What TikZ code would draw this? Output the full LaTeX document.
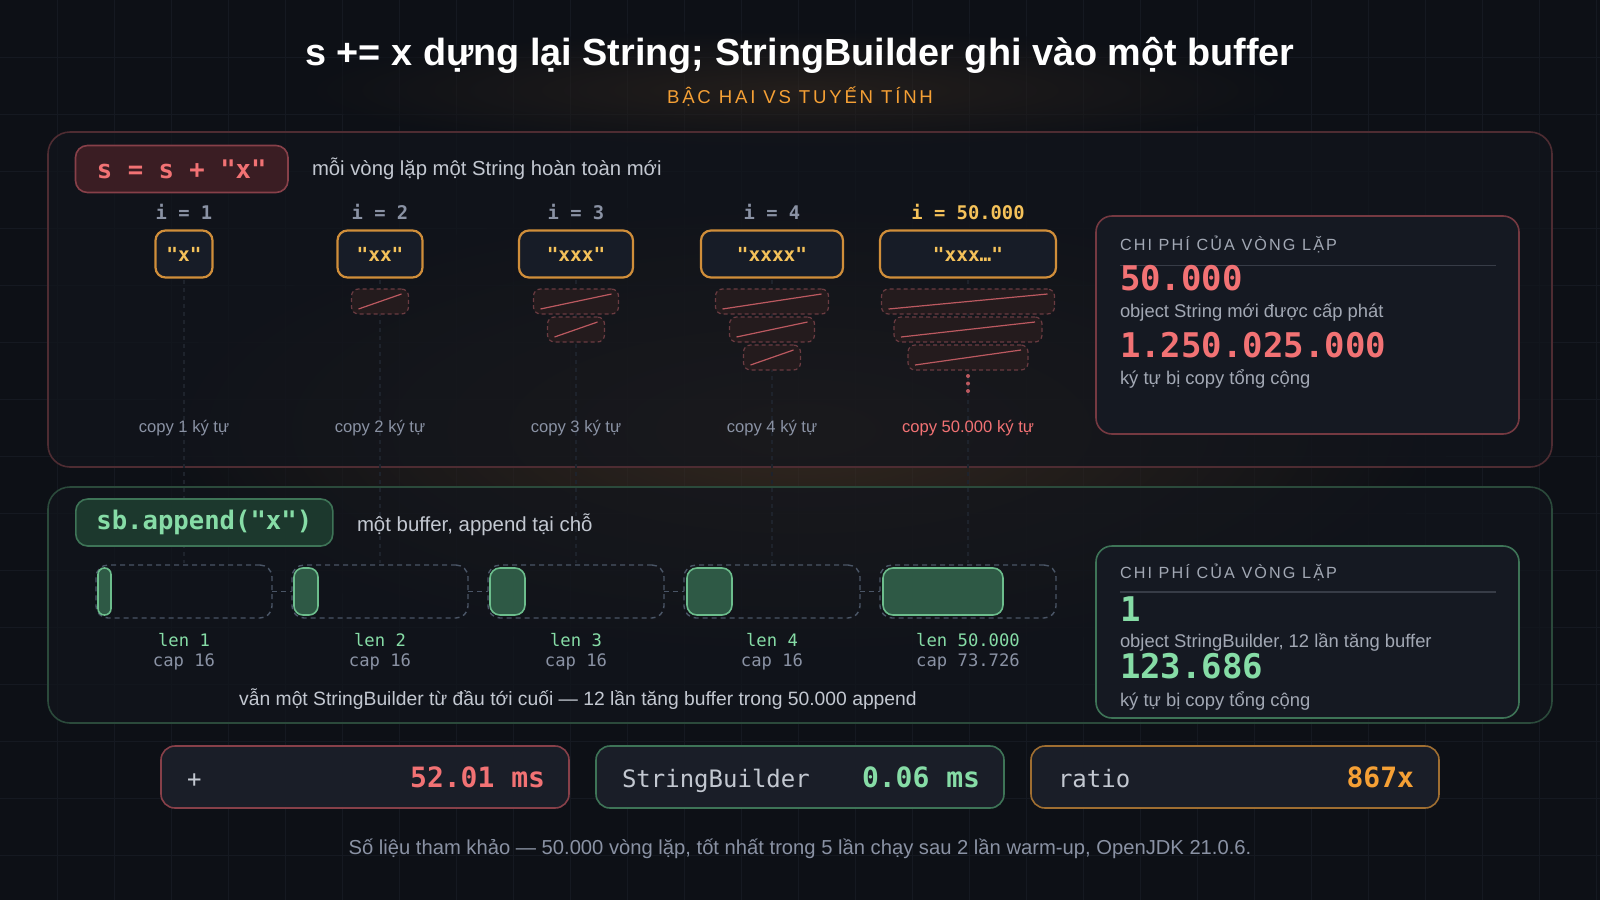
\documentclass[tikz,border=0pt]{standalone}
\usepackage{fontspec}
\setmainfont{Liberation Sans}
\setmonofont{DejaVu Sans Mono}
\newfontfamily\spacedsans[LetterSpace=13]{Liberation Sans}
\newfontfamily\subsans[LetterSpace=15]{Liberation Sans}
\usetikzlibrary{calc}
\definecolor{bg}{HTML}{0D1016}
\definecolor{gridc}{HTML}{151921}
\definecolor{panelfill}{HTML}{12151C}
\definecolor{redborder}{HTML}{4E2C32}
\definecolor{greenborder}{HTML}{2B4A3B}
\definecolor{codered}{HTML}{F27274}
\definecolor{coderedfill}{HTML}{3A1D23}
\definecolor{coderedline}{HTML}{874049}
\definecolor{codegreen}{HTML}{86DCA6}
\definecolor{codegreenfill}{HTML}{1C382D}
\definecolor{codegreenline}{HTML}{3E7457}
\definecolor{orangeline}{HTML}{D08E3A}
\definecolor{orangetext}{HTML}{F5C25A}
\definecolor{orangebright}{HTML}{F5A035}
\definecolor{ilabel}{HTML}{8A92A4}
\definecolor{captext}{HTML}{C3C8D1}
\definecolor{softtext}{HTML}{A2A8B4}
\definecolor{copyfill}{HTML}{241B1D}
\definecolor{copyline}{HTML}{6A3B41}
\definecolor{copydiag}{HTML}{BC5960}
\definecolor{statfill}{HTML}{151922}
\definecolor{statsep}{HTML}{373C47}
\definecolor{bufline}{HTML}{4A5566}
\definecolor{buffill}{HTML}{2E5945}
\definecolor{bufedge}{HTML}{6CBD8C}
\definecolor{guide}{HTML}{1E232C}
\definecolor{boxfill}{HTML}{1A1E28}
\definecolor{strfill}{HTML}{171C27}
\newcommand\myfs[1]{\fontsize{#1}{#1}\selectfont}
\begin{document}
\begin{tikzpicture}[x=0.5pt,y=-0.5pt,
  every node/.style={inner sep=0pt, outer sep=0pt},
  panel/.style={rounded corners=11pt, line width=0.8pt, fill=panelfill, fill opacity=0.75},
  codebox/.style={rounded corners=6pt, line width=0.8pt, minimum height=23.5pt},
  strbox/.style={draw=orangeline, fill=strfill, rounded corners=5pt, line width=1.1pt, minimum height=23.5pt, font=\ttfamily\bfseries\myfs{9.7}, text=orangetext},
  ilab/.style={font=\ttfamily\bfseries\myfs{9.4}, text=ilabel},
  copybox/.style={draw=copyline, fill=copyfill, dashed, dash pattern=on 2pt off 1.5pt, rounded corners=3.5pt, line width=0.6pt, minimum height=12.5pt},
  copydiagline/.style={copydiag, line width=0.6pt},
  copylab/.style={font=\myfs{8.3}, text=ilabel},
  statbox/.style={rounded corners=8pt, line width=0.8pt, fill=statfill},
  stathead/.style={font=\spacedsans\myfs{8.1}, text=softtext, anchor=west},
  statbig/.style={font=\ttfamily\bfseries\myfs{17}, anchor=west},
  statdesc/.style={font=\myfs{9.2}, text=softtext, anchor=west},
  bufout/.style={draw=bufline, dashed, dash pattern=on 2.5pt off 2pt, rounded corners=6pt, line width=0.7pt, minimum width=88pt, minimum height=26.5pt},
  bufin/.style={draw=bufedge, fill=buffill, line width=0.8pt, minimum height=23.5pt, anchor=west},
  lenlab/.style={font=\ttfamily\myfs{8.6}, text=codegreen},
  caplab/.style={font=\ttfamily\myfs{8.6}, text=ilabel},
  metric/.style={rounded corners=7pt, line width=0.8pt, fill=boxfill, minimum width=204pt, minimum height=31pt},
  metlab/.style={font=\ttfamily\myfs{12}, text=captext, anchor=base west},
  metval/.style={font=\ttfamily\bfseries\myfs{14}, anchor=base east},
  guideline/.style={guide, line width=0.6pt, dashed, dash pattern=on 2pt off 2pt}
]
\useasboundingbox (0,0) rectangle (1600,900);
\fill[bg] (0,0) rectangle (1600,900);
\foreach \i in {1,...,28} {\draw[gridc, line width=0.4pt] (\i*57,0) -- (\i*57,900);}
\foreach \j in {1,...,15} {\draw[gridc, line width=0.4pt] (0,\j*57) -- (1600,\j*57);}
% warm glow
\shade[inner color=brown!35!bg, outer color=bg, opacity=0.6] (800,430) ellipse [x radius=650, y radius=230];
\shade[inner color=brown!25!bg, outer color=bg, opacity=0.5] (800,90) ellipse [x radius=500, y radius=60];

% title
\node[font=\bfseries\myfs{18.9}, text=white] (title) at (800,55.5) {s += x dựng lại String; StringBuilder ghi vào một buffer};
\node[font=\subsans\myfs{9.3}, text=orangebright] (subtitle) at (800,97) {BẬC HAI VS TUYẾN TÍNH};

% panels
\draw[panel, draw=redborder] (48,132) rectangle (1552,467);
\draw[panel, draw=greenborder] (48,487) rectangle (1552,723);

% guides
\foreach \cx in {184,380,576,772,968} {\draw[guideline] (\cx,280) -- (\cx,563);}

% top section
\node[codebox, draw=coderedline, fill=coderedfill, minimum width=106.25pt, font=\ttfamily\bfseries\myfs{12.8}, text=codered] (plusbox) at (181.75,169) {s = s + "x"};
\node[font=\myfs{10.15}, text=captext, anchor=west] (pluscap) at (312,168.5) {mỗi vòng lặp một String hoàn toàn mới};

\node[ilab] (i1) at (184,212) {i = 1};
\node[ilab] (i2) at (380,212) {i = 2};
\node[ilab] (i3) at (576,212) {i = 3};
\node[ilab] (i4) at (772,212) {i = 4};
\node[ilab, text=orangetext] (i5) at (968,212) {i = 50.000};

\node[strbox, minimum width=28.5pt] (s1) at (184,254) {"x"};
\node[strbox, minimum width=42.5pt] (s2) at (380,254) {"xx"};
\node[strbox, minimum width=57pt] (s3) at (576,254) {"xxx"};
\node[strbox, minimum width=71pt] (s4) at (772,254) {"xxxx"};
\node[strbox, minimum width=88pt] (s5) at (968,254) {"xxx…"};

% copy boxes
\foreach \nm/\cx/\cy/\w in {c21/380/301.5/28.5, c31/576/301.5/42.5, c32/576/329.5/28.5, c41/772/301.5/56.5, c42/772/329.5/42.5, c43/772/357.5/28.5, c51/968/301.5/86.5, c52/968/329.5/74, c53/968/357.5/60}{
  \node[copybox, minimum width=\w pt] (\nm) at (\cx,\cy) {};
  \draw[copydiagline] ($(\nm.south west)+(7,-5)$) -- ($(\nm.north east)+(-7,5)$);
}
\foreach \dy in {376,383.5,391} {\fill[copydiag] (968,\dy) circle (1pt);}

\node[copylab] (cp1) at (184,428.5) {copy 1 ký tự};
\node[copylab] (cp2) at (380,428.5) {copy 2 ký tự};
\node[copylab] (cp3) at (576,428.5) {copy 3 ký tự};
\node[copylab] (cp4) at (772,428.5) {copy 4 ký tự};
\node[copylab, text=codered] (cp5) at (968,428.5) {copy 50.000 ký tự};

% top stats
\draw[statbox, draw=coderedline!85!bg] (1096,216) rectangle (1519,434);
\node[stathead] (th) at (1120,244) {CHI PHÍ CỦA VÒNG LẶP};
\coordinate (tsepa) at (1120,265.5);
\coordinate (tsepb) at (1496,265.5);
\draw[statsep, line width=0.8pt] (tsepa) -- (tsepb);
\node[statbig, text=codered] (tv1) at (1120,278) {50.000};
\node[statdesc] (td1) at (1120,312) {object String mới được cấp phát};
\node[statbig, text=codered] (tv2) at (1120,345) {1.250.025.000};
\node[statdesc] (td2) at (1120,379) {ký tự bị copy tổng cộng};

% bottom section
\node[codebox, draw=codegreenline, fill=codegreenfill, minimum width=128.5pt, font=\ttfamily\bfseries\myfs{12.8}, text=codegreen] (sbbox) at (204.3,522.5) {sb.append("x")};
\node[font=\myfs{10.2}, text=captext, anchor=west] (sbcap) at (357,524.5) {một buffer, append tại chỗ};

\node[bufout] (b1) at (184,591.5) {};
\node[bufout] (b2) at (380,591.5) {};
\node[bufout] (b3) at (576,591.5) {};
\node[bufout] (b4) at (772,591.5) {};
\node[bufout] (b5) at (968,591.5) {};
\node[bufin, minimum width=6.5pt, rounded corners=3.2pt] (f1) at ($(b1.west)+(2,0)$) {};
\node[bufin, minimum width=12pt, rounded corners=4.5pt] (f2) at ($(b2.west)+(2,0)$) {};
\node[bufin, minimum width=17.5pt, rounded corners=5pt] (f3) at ($(b3.west)+(2,0)$) {};
\node[bufin, minimum width=22.5pt, rounded corners=5pt] (f4) at ($(b4.west)+(3,0)$) {};
\node[bufin, minimum width=60pt, rounded corners=5pt] (f5) at ($(b5.west)+(3,0)$) {};
\foreach \a/\b in {b1/b2,b2/b3,b3/b4,b4/b5} {\draw[bufline, dashed, dash pattern=on 2.5pt off 2pt, line width=0.7pt] (\a.east) -- (\b.west);}

\node[lenlab] (l1) at (184,640) {len 1};
\node[lenlab] (l2) at (380,640) {len 2};
\node[lenlab] (l3) at (576,640) {len 3};
\node[lenlab] (l4) at (772,640) {len 4};
\node[lenlab] (l5) at (968,640) {len 50.000};
\node[caplab] (k1) at (184,662) {cap 16};
\node[caplab] (k2) at (380,662) {cap 16};
\node[caplab] (k3) at (576,662) {cap 16};
\node[caplab] (k4) at (772,662) {cap 16};
\node[caplab] (k5) at (968,662) {cap 73.726};
\node[font=\myfs{9.65}, text=captext] (sbnote) at (578,699.5) {vẫn một StringBuilder từ đầu tới cuối — 12 lần tăng buffer trong 50.000 append};

% bottom stats
\draw[statbox, draw=codegreenline] (1096,546) rectangle (1519,718);
\node[stathead] (bh) at (1120,572) {CHI PHÍ CỦA VÒNG LẶP};
\coordinate (bsepa) at (1120,592);
\coordinate (bsepb) at (1496,592);
\draw[statsep, line width=0.8pt] (bsepa) -- (bsepb);
\node[statbig, text=codegreen, anchor=base west] (bv1) at (1120,621) {1};
\node[statdesc, anchor=base west] (bd1) at (1120,647) {object StringBuilder, 12 lần tăng buffer};
\node[statbig, text=codegreen, anchor=base west] (bv2) at (1120,678) {123.686};
\node[statdesc, anchor=base west] (bd2) at (1120,706) {ký tự bị copy tổng cộng};

% metrics
\node[metric, draw=coderedline] (m1) at (365,777) {};
\node[metric, draw=codegreenline] (m2) at (800,777) {};
\node[metric, draw=orangeline!75!bg] (m3) at (1235,777) {};
\node[metlab] (m1l) at ($(m1.west)+(26,10)$) {+};
\node[metval, text=codered] (m1v) at ($(m1.east)+(-24,10)$) {52.01 ms};
\node[metlab] (m2l) at ($(m2.west)+(26,10)$) {StringBuilder};
\node[metval, text=codegreen] (m2v) at ($(m2.east)+(-24,10)$) {0.06 ms};
\node[metlab] (m3l) at ($(m3.west)+(27,10)$) {ratio};
\node[metval, text=orangebright] (m3v) at ($(m3.east)+(-25,10)$) {867x};

\node[font=\myfs{10.1}, text=ilabel] (footer) at (800,849) {Số liệu tham khảo — 50.000 vòng lặp, tốt nhất trong 5 lần chạy sau 2 lần warm-up, OpenJDK 21.0.6.};
\end{tikzpicture}
\end{document}
